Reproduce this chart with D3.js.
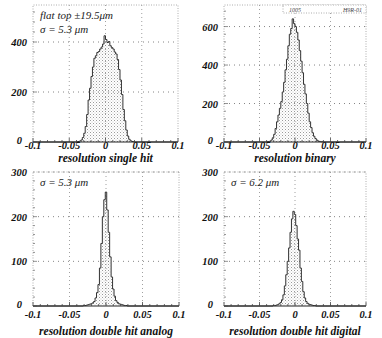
<!DOCTYPE html>
<html>
<head>
<meta charset="UTF-8" />
<title>resolution histograms</title>
<script src="https://d3js.org/d3.v7.min.js"></script>
<style>
  body { margin: 0; background: #fff; }
  svg { display: block; }
  text { font-family: "Liberation Serif", "DejaVu Serif", serif; }
  .tick { font-weight: bold; font-style: italic; font-size: 10.5px; fill: #111; }
  .title { font-weight: bold; font-style: italic; font-size: 11.5px; fill: #111; }
  .note { font-style: italic; font-size: 11px; fill: #222; }
</style>
</head>
<body>
<svg id="chart" width="382" height="338"></svg>
<script>
// bin width of all four histograms
const binWidth = 0.002

// counts per bin, first bin starts at the given lower edge
const singleStart = -0.040
const singleCounts = [1, 2, 4, 8, 18, 35, 62, 110, 168, 215, 262, 300, 335, 345, 358, 362, 372, 380, 392, 425,
  410, 398, 402, 385, 378, 372, 360, 352, 330, 290, 248, 190, 130, 85, 48, 24, 11, 5, 2, 1]

const binaryStart = -0.040
const binaryCounts = [1, 2, 4, 10, 22, 40, 70, 105, 140, 175, 210, 260, 310, 375, 430, 500, 560, 590, 640, 615,
  600, 570, 530, 475, 420, 360, 300, 250, 200, 150, 105, 75, 48, 30, 18, 10, 5, 3, 1, 1]

const analogStart = -0.031
const analogCounts = [1, 1, 2, 3, 4, 5, 7, 10, 18, 30, 48, 85, 140, 200, 238, 255, 215, 165, 110, 65,
  38, 22, 12, 8, 5, 4, 3, 2, 1, 1]

const digitalStart = -0.031
const digitalCounts = [1, 1, 2, 3, 5, 8, 14, 25, 45, 70, 100, 130, 165, 195, 212, 205, 180, 150, 125, 85,
  55, 32, 18, 10, 6, 4, 3, 2, 1, 1]

// axes
const xTicks = [-0.1, -0.05, 0, 0.05, 0.1]
const xTickLabels = ["-0.1", "-0.05", "0", "0.05", "0.1"]
const yTicksTop1 = [0, 200, 400]
const yTicksTop2 = [0, 200, 400, 600]
const yTicksBottom = [0, 100, 200, 300]

const titles = ["resolution single hit", "resolution binary", "resolution double hit analog", "resolution double hit digital"]
const notes = [["flat top \u00b119.5\u03bcm", "\u03c3 =  5.3 \u03bcm"], [], ["\u03c3 =  5.3 \u03bcm"], ["\u03c3 =  6.2 \u03bcm"]]

// frames in pixels
const panels = [
  {x0: 33, x1: 178, y0: 5, y1: 142, ymax: 548, start: singleStart, counts: singleCounts, yt: yTicksTop1, labY: 149, titY: 162},
  {x0: 224, x1: 366, y0: 5, y1: 142, ymax: 712, start: binaryStart, counts: binaryCounts, yt: yTicksTop2, labY: 149, titY: 162},
  {x0: 33, x1: 179, y0: 172, y1: 306, ymax: 300, start: analogStart, counts: analogCounts, yt: yTicksBottom, labY: 318, titY: 335},
  {x0: 224, x1: 366, y0: 172, y1: 306, ymax: 300, start: digitalStart, counts: digitalCounts, yt: yTicksBottom, labY: 318, titY: 335}
]

const svg = d3.select("#chart")

// dotted fill
const pat = svg.append("defs").append("pattern")
  .attr("id", "dots").attr("width", 3).attr("height", 3)
  .attr("patternUnits", "userSpaceOnUse")
pat.append("rect").attr("width", 3).attr("height", 3).attr("fill", "#fff")
pat.append("rect").attr("width", 1).attr("height", 1).attr("fill", "#9a9a9a")
pat.append("rect").attr("x", 1.5).attr("y", 1.5).attr("width", 1).attr("height", 1).attr("fill", "#c4c4c4")

panels.forEach((p, i) => {
  const x = d3.scaleLinear().domain([-0.1, 0.1]).range([p.x0, p.x1])
  const y = d3.scaleLinear().domain([0, p.ymax]).range([p.y1, p.y0])
  const g = svg.append("g")

  // step outline points
  const pts = [[-0.1, 0], [p.start, 0]]
  p.counts.forEach((c, k) => {
    const lo = p.start + k * binWidth
    pts.push([lo, c], [lo + binWidth, c])
  })
  pts.push([p.start + p.counts.length * binWidth, 0], [0.1, 0])

  g.append("path")
    .attr("d", d3.area().x(d => x(d[0])).y0(y(0)).y1(d => y(d[1]))(pts))
    .attr("fill", "url(#dots)")

  // grid
  g.selectAll(".gx").data([-0.05, 0, 0.05]).join("line")
    .attr("x1", d => x(d)).attr("x2", d => x(d))
    .attr("y1", p.y0).attr("y2", p.y1)
    .attr("stroke", "#888").attr("stroke-width", 0.8).attr("stroke-dasharray", "1,3")
  g.selectAll(".gy").data(p.yt.filter(d => d > 0)).join("line")
    .attr("x1", p.x0).attr("x2", p.x1)
    .attr("y1", d => y(d)).attr("y2", d => y(d))
    .attr("stroke", "#666").attr("stroke-width", 0.8).attr("stroke-dasharray", "1,4")

  g.append("path")
    .attr("d", d3.line().x(d => x(d[0])).y(d => y(d[1]))(pts))
    .attr("fill", "none").attr("stroke", "#333").attr("stroke-width", 1)

  // frame (dotted top/right/left)
  g.append("path")
    .attr("d", `M${p.x0},${p.y1}V${p.y0}H${p.x1}V${p.y1}`)
    .attr("fill", "none").attr("stroke", "#999").attr("stroke-width", 0.8).attr("stroke-dasharray", "1,1.5")

  // left axis minor ticks
  const ystep = p.yt[1] - p.yt[0]
  g.selectAll(".my").data(d3.range(0, p.ymax, ystep / 5)).join("line")
    .attr("x1", p.x0).attr("x2", d => p.x0 + (d % ystep === 0 ? 4 : 2))
    .attr("y1", d => y(d)).attr("y2", d => y(d))
    .attr("stroke", "#777").attr("stroke-width", 0.8)

  // bottom axis
  g.append("line").attr("x1", p.x0).attr("x2", p.x1).attr("y1", p.y1).attr("y2", p.y1)
    .attr("stroke", "#222").attr("stroke-width", 1)
  g.selectAll(".mx").data(d3.range(-10, 11)).join("line")
    .attr("x1", d => x(d / 100)).attr("x2", d => x(d / 100))
    .attr("y1", p.y1).attr("y2", d => p.y1 - (d % 5 === 0 ? 4 : 2))
    .attr("stroke", "#444").attr("stroke-width", 0.8)

  // tick labels
  g.selectAll(".xl").data(xTicks).join("text").attr("class", "tick")
    .attr("x", d => x(d)).attr("y", p.labY).attr("text-anchor", "middle")
    .text((d, k) => xTickLabels[k])
  g.selectAll(".yl").data(p.yt).join("text").attr("class", "tick")
    .attr("x", d => d === 0 ? p.x0 - 11 : p.x0 - 6).attr("y", d => y(d) + (d === 0 ? 2 : 4))
    .attr("text-anchor", "end")
    .text(d => d)

  g.append("text").attr("class", "title")
    .attr("x", (p.x0 + p.x1) / 2).attr("y", p.titY).attr("text-anchor", "middle")
    .text(titles[i])

  notes[i].forEach((t, k) => {
    g.append("text").attr("class", "note")
      .attr("x", p.x0 + 7).attr("y", p.y0 + 14 + k * 14)
      .text(t)
  })
})

// id box on the binary panel
const b = panels[1]
svg.append("rect").attr("x", 283).attr("y", b.y0).attr("width", b.x1 - 283).attr("height", 8)
  .attr("fill", "#fff").attr("stroke", "#999").attr("stroke-width", 0.8).attr("stroke-dasharray", "1,1.5")
svg.append("text").attr("x", 289).attr("y", b.y0 + 6.5)
  .style("font-style", "italic").style("font-size", "6px").attr("fill", "#444").text("1005")
svg.append("text").attr("x", b.x1 - 4).attr("y", b.y0 + 6.5).attr("text-anchor", "end")
  .style("font-style", "italic").style("font-size", "6px").attr("fill", "#444").text("H9R-01")
</script>
</body>
</html>
